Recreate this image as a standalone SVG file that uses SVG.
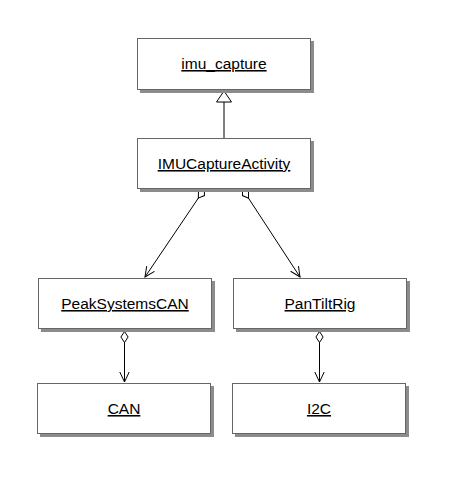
<svg xmlns="http://www.w3.org/2000/svg" width="449" height="477" viewBox="0 0 449 477">
<style>
.box{fill:#fff;stroke:#666;stroke-width:1}
.sh{fill:#8c8c8c}
.t{font-family:"Liberation Sans",Arial,sans-serif;font-size:15.5px;fill:#000;text-anchor:middle;text-decoration:underline}
.c{stroke:#000;stroke-width:1;fill:none}
</style>
<defs>
<marker id="dia" markerUnits="userSpaceOnUse" markerWidth="14" markerHeight="10" refX="0" refY="5" orient="auto" viewBox="-1 0 14 10">
<path d="M0,5 L5.5,1.4 L11,5 L5.5,8.6 Z" fill="#fff" stroke="#000" stroke-width="1"/>
</marker>
<marker id="arr" markerUnits="userSpaceOnUse" markerWidth="14" markerHeight="12" refX="12" refY="6" orient="auto" viewBox="0 0 14 12">
<path d="M2,1.3 L12,6 L2,10.7" fill="none" stroke="#000" stroke-width="1"/>
</marker>
<marker id="tri" markerUnits="userSpaceOnUse" markerWidth="16" markerHeight="18" refX="14" refY="9" orient="auto" viewBox="0 0 16 18">
<path d="M14,9 L3,1.5 L3,16.5 Z" fill="#fff" stroke="#000" stroke-width="1"/>
</marker>
</defs>
<g id="connectors">
<line class="c" x1="224" y1="138" x2="224" y2="91" marker-end="url(#tri)"/>
<line class="c" x1="204.5" y1="189" x2="145" y2="277" marker-start="url(#dia)" marker-end="url(#arr)"/>
<line class="c" x1="242.5" y1="189" x2="300" y2="277" marker-start="url(#dia)" marker-end="url(#arr)"/>
<line class="c" x1="124.5" y1="331.5" x2="124.5" y2="382" marker-start="url(#dia)" marker-end="url(#arr)"/>
<line class="c" x1="319.5" y1="331.5" x2="319.5" y2="382" marker-start="url(#dia)" marker-end="url(#arr)"/>
</g>
<g id="imu_capture">
<rect class="sh" x="140" y="41" width="174" height="52"/>
<rect class="box" x="137.5" y="38.5" width="173" height="51"/>
<text class="t" x="224" y="69">imu_capture</text>
</g>
<g id="IMUCaptureActivity">
<rect class="sh" x="140" y="141" width="174" height="51"/>
<rect class="box" x="137.5" y="138.5" width="173" height="50"/>
<text class="t" x="224" y="169">IMUCaptureActivity</text>
</g>
<g id="PeakSystemsCAN">
<rect class="sh" x="41" y="281" width="174" height="51"/>
<rect class="box" x="38.5" y="278.5" width="173" height="50"/>
<text class="t" x="125" y="309">PeakSystemsCAN</text>
</g>
<g id="PanTiltRig">
<rect class="sh" x="236" y="281" width="174" height="51"/>
<rect class="box" x="233.5" y="278.5" width="173" height="50"/>
<text class="t" x="320" y="309">PanTiltRig</text>
</g>
<g id="CAN">
<rect class="sh" x="40" y="386" width="174" height="51"/>
<rect class="box" x="37.5" y="383.5" width="173" height="50"/>
<text class="t" x="124" y="414">CAN</text>
</g>
<g id="I2C">
<rect class="sh" x="235" y="386" width="174" height="51"/>
<rect class="box" x="232.5" y="383.5" width="173" height="50"/>
<text class="t" x="319" y="414">I2C</text>
</g>
</svg>
